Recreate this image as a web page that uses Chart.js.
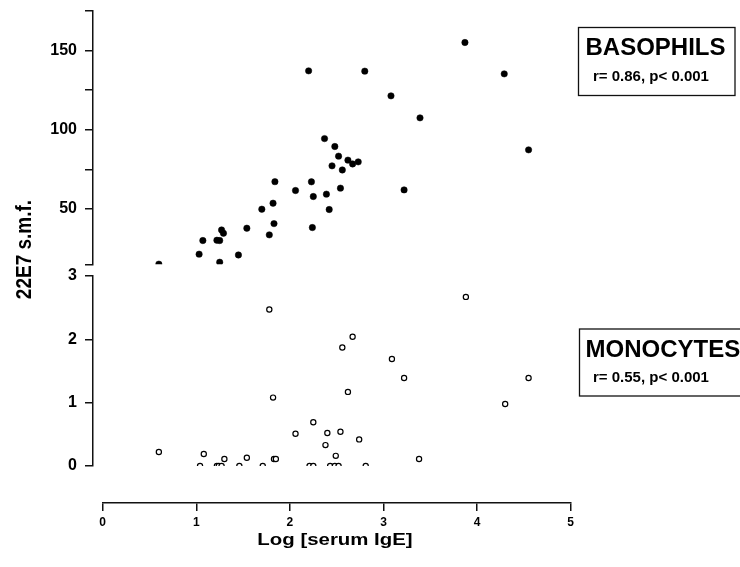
<!DOCTYPE html>
<html>
<head>
<meta charset="utf-8">
<script src="https://cdn.jsdelivr.net/npm/chart.js@4"></script>
<style>
  html, body { margin: 0; padding: 0; background: #fff; }
  #wrap { position: relative; width: 740px; height: 567px; }
  canvas { display: block; }
</style>
</head>
<body>
<div id="wrap"><canvas id="c" width="740" height="567"></canvas></div>
<script>
// ---- data ----
const basoX = [0.60,1.03,1.07,1.22,1.25,1.27,1.29,1.25,1.45,1.54,1.70,1.78,1.82,1.83,1.84,2.06,2.20,2.23,2.24,2.25,2.37,2.39,2.42,2.45,2.48,2.52,2.54,2.56,2.62,2.67,2.73,2.80,3.08,3.22,3.39,3.87,4.29,4.55];
const basoY = [15.1,21.4,30.0,30.2,30.0,36.7,34.6,16.3,20.9,37.8,49.8,33.6,53.6,40.7,67.2,61.6,137.2,67.1,38.2,57.8,94.4,59.3,49.6,77.2,89.4,83.3,63.1,74.6,80.8,78.4,79.7,137.0,121.4,62.0,107.5,155.1,135.3,87.3];
const monoX = [0.60,1.08,1.04,1.22,1.24,1.27,1.30,1.46,1.54,1.71,1.78,1.82,1.83,1.85,2.06,2.21,2.25,2.25,2.38,2.40,2.43,2.48,2.52,2.49,2.54,2.56,2.62,2.67,2.74,2.81,3.09,3.22,3.38,3.88,4.30,4.55];
const monoY = [0.22,0.19,0.00,0.00,0.00,0.00,0.11,0.00,0.13,0.00,2.47,1.08,0.11,0.11,0.51,0.00,0.00,0.69,0.33,0.52,0.00,0.00,0.00,0.16,0.54,1.87,1.17,2.04,0.42,0.00,1.69,1.39,0.11,2.67,0.98,1.39];
const basoTicks = [15,50,75,100,125,150,175];
const basoTickLabels = ['', '50', '', '100', '', '150', ''];
const monoTicks = [0,1,2,3];
const monoTickLabels = ['0','1','2','3'];
const xTicks = [0,1,2,3,4,5];
const xTickLabels = ['0','1','2','3','4','5'];
const xTitle = 'Log [serum IgE]';
const yTitle = '22E7 s.m.f.';
const boxes = [
  { title: 'BASOPHILS', stat: 'r= 0.86, p< 0.001' },
  { title: 'MONOCYTES', stat: 'r= 0.55, p< 0.001' }
];

const FONT = '"Liberation Sans", Arial, Helvetica, sans-serif';
const INK = '#111';

function pts(xs, ys) { return xs.map((x, i) => ({ x: x, y: ys[i] })); }

function fixedTicks(values) {
  return function (scale) { scale.ticks = values.map(v => ({ value: v })); };
}
function labelFrom(values, labels) {
  return function (v) { const i = values.indexOf(v); return i >= 0 ? labels[i] : ''; };
}
function noPad(s) { s.paddingTop = 0; s.paddingBottom = 0; s.paddingLeft = 0; s.paddingRight = 0; }

const yCommon = {
  type: 'linear',
  position: 'left',
  stack: 'ys',
  grid: { display: true, drawOnChartArea: false, drawTicks: true, tickLength: 8, color: INK, lineWidth: 1.5 },
  border: { display: true, color: INK, width: 1.5 },
  ticks: { autoSkip: false, color: '#000', padding: 8, font: { family: FONT, size: 16, weight: 'bold' } },
  afterFit: s => { s.width = 93; noPad(s); }
};
const gapAxis = (w, weight) => ({
  type: 'linear', position: 'left', stack: 'ys', stackWeight: w, weight: weight,
  min: 0, max: 1,
  grid: { display: false }, border: { display: false }, ticks: { display: false },
  afterFit: s => { noPad(s); }
});

const annot = {
  id: 'annot',
  afterDraw(chart) {
    const ctx = chart.ctx;
    ctx.save();
    ctx.fillStyle = '#000';
    ctx.strokeStyle = INK;
    // legend boxes
    const geo = [
      { x: 578.5, y: 27.5, w: 156.5, h: 68, tBase: 55, sBase: 81 },
      { x: 579.5, y: 329, w: 170, h: 67, tBase: 356.7, sBase: 381.7 }
    ];
    boxes.forEach((b, i) => {
      const g = geo[i];
      ctx.lineWidth = 1.3;
      ctx.strokeRect(g.x, g.y, g.w, g.h);
      ctx.textAlign = 'left';
      ctx.textBaseline = 'alphabetic';
      ctx.font = 'bold 24px ' + FONT;
      ctx.fillText(b.title, 585.5, g.tBase);
      ctx.font = 'bold 15px ' + FONT;
      ctx.fillText(b.stat, 593, g.sBase);
    });
    // x title
    ctx.save();
    ctx.translate(335, 545);
    ctx.scale(1.2, 1);
    ctx.font = 'bold 17px ' + FONT;
    ctx.textAlign = 'center';
    ctx.textBaseline = 'alphabetic';
    ctx.fillText(xTitle, 0, 0);
    ctx.restore();
    // y title
    ctx.save();
    ctx.translate(23, 249.5);
    ctx.rotate(-Math.PI / 2);
    ctx.scale(1, 1.15);
    ctx.font = 'bold 19px ' + FONT;
    ctx.textAlign = 'center';
    ctx.textBaseline = 'alphabetic';
    ctx.fillText(yTitle, 0, 6.8);
    ctx.restore();
    ctx.restore();
  }
};

new Chart(document.getElementById('c'), {
  type: 'scatter',
  data: {
    datasets: [
      {
        label: 'Basophils',
        data: pts(basoX, basoY),
        xAxisID: 'x', yAxisID: 'yB',
        pointRadius: 3.2, pointBackgroundColor: '#000', pointBorderColor: '#000', pointBorderWidth: 0.5,
        pointHoverRadius: 3.2
      },
      {
        label: 'Monocytes',
        data: pts(monoX, monoY),
        xAxisID: 'x', yAxisID: 'yM',
        pointRadius: 2.6, pointBackgroundColor: '#fff', pointBorderColor: '#000', pointBorderWidth: 1.2,
        pointHoverRadius: 2.6
      }
    ]
  },
  options: {
    responsive: false,
    animation: false,
    devicePixelRatio: 1,
    events: [],
    layout: { padding: { left: 0, top: 11, right: 169.3, bottom: 24 } },
    plugins: { legend: { display: false }, tooltip: { enabled: false }, title: { display: false } },
    scales: {
      yB: Object.assign({}, yCommon, {
        min: 15, max: 175, stackWeight: 253.3, weight: 4,
        afterBuildTicks: fixedTicks(basoTicks),
        ticks: Object.assign({}, yCommon.ticks, { callback: labelFrom(basoTicks, basoTickLabels) })
      }),
      gapA: gapAxis(11.7, 3),
      yM: Object.assign({}, yCommon, {
        min: 0, max: 3, stackWeight: 190, weight: 2,
        afterBuildTicks: fixedTicks(monoTicks),
        ticks: Object.assign({}, yCommon.ticks, { callback: labelFrom(monoTicks, monoTickLabels) })
      }),
      gapB: gapAxis(37, 1),
      xGap: {
        type: 'linear', position: 'bottom', stack: 'xs', stackWeight: 9.7, weight: 0,
        min: 0, max: 1,
        grid: { display: false }, border: { display: false }, ticks: { display: false },
        afterFit: s => { s.height = 40; noPad(s); }
      },
      x: {
        type: 'linear', position: 'bottom', stack: 'xs', stackWeight: 468, weight: 1,
        min: 0, max: 5,
        afterBuildTicks: fixedTicks(xTicks),
        grid: { display: true, drawOnChartArea: false, drawTicks: true, tickLength: 8, color: INK, lineWidth: 1.5 },
        border: { display: true, color: INK, width: 1.5 },
        ticks: { autoSkip: false, maxRotation: 0, color: '#000', padding: 4,
                 font: { family: FONT, size: 12, weight: 'bold' },
                 callback: labelFrom(xTicks, xTickLabels) },
        afterFit: s => { s.height = 40; noPad(s); }
      }
    }
  },
  plugins: [annot]
});
</script>
</body>
</html>
